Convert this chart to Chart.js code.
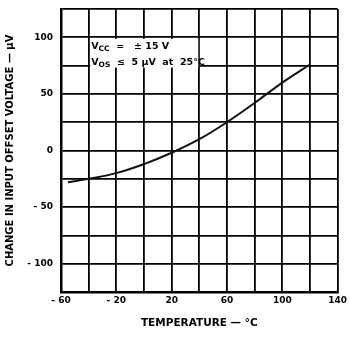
<!DOCTYPE html>
<html><head><meta charset="utf-8">
<script src="https://cdn.jsdelivr.net/npm/chart.js@4"></script>
<style>html,body{margin:0;padding:0;background:#fff}#w{width:350px;height:337px;position:relative}</style>
</head><body><div id="w"><canvas id="c"></canvas></div>
<script>
const temperatures = [-55, -40, -20, 0, 20, 40, 60, 80, 100, 120];
const offsetChange = [-28, -25, -20, -12, -2, 10, 25, 42, 60, 76];
const xTickLabels = {"-60": "- 60", "-20": "- 20", "20": "20", "60": "60", "100": "100", "140": "140"};
const yTickLabels = {"100": "100", "50": "50", "0": "0", "-50": "- 50", "-100": "- 100"};
const xTitle = "TEMPERATURE — °C";
const yTitle = "CHANGE IN INPUT OFFSET VOLTAGE — µV";
const noteLine1 = [["V", ""], ["CC", "sub"], ["  =   ± 15 V", ""]];
const noteLine2 = [["V", ""], ["OS", "sub"], ["  ≤  5 µV  at  25°C", ""]];

const FONT = "'DejaVu Sans', sans-serif";

const notePlugin = {
  id: 'note',
  beforeDatasetsDraw(chart) {
    const {ctx, scales: {x, y}} = chart;
    const x0 = x.getPixelForValue(-40) + 1.5;
    const x1 = x.getPixelForValue(40) - 1;
    const y0 = y.getPixelForValue(100) + 1.5;
    const y1 = y.getPixelForValue(75) + 2;
    ctx.save();
    ctx.fillStyle = '#fff';
    ctx.fillRect(x0, y0, x1 - x0, y1 - y0);
    ctx.fillStyle = '#000';
    ctx.textBaseline = 'middle';
    const drawLine = (parts, lx, ly) => {
      let cx = lx;
      for (const [t, kind] of parts) {
        if (kind === 'sub') {
          ctx.font = "bold 7.5px " + FONT;
          ctx.fillText(t, cx, ly + 2);
        } else {
          ctx.font = "bold 9.5px " + FONT;
          ctx.fillText(t, cx, ly);
        }
        cx += ctx.measureText(t).width;
      }
    };
    drawLine(noteLine1, x0 + 1, y0 + 8);
    drawLine(noteLine2, x0 + 1, y0 + 24);
    ctx.restore();
  }
};

new Chart(document.getElementById('c'), {
  type: 'line',
  data: {
    datasets: [{
      data: temperatures.map((t, i) => ({x: t, y: offsetChange[i]})),
      borderColor: '#111',
      borderWidth: 2,
      pointRadius: 0,
      tension: 0.4,
      fill: false
    }]
  },
  options: {
    responsive: true,
    maintainAspectRatio: false,
    animation: false,
    layout: {padding: {top: 9, right: 10, left: 0, bottom: 0}},
    plugins: {legend: {display: false}, tooltip: {enabled: false}},
    scales: {
      x: {
        type: 'linear', min: -60, max: 140,
        afterFit: s => { s.height = 45; },
        ticks: {
          stepSize: 20, autoSkip: false, maxRotation: 0, padding: 3,
          color: '#000', font: {family: FONT, size: 9, weight: 'bold'},
          callback: v => xTickLabels[String(v)] ?? ''
        },
        grid: {color: '#000', lineWidth: 1.8, drawTicks: false},
        border: {display: true, color: '#000', width: 2.5},
        title: {display: true, text: xTitle, color: '#000',
          font: {family: FONT, size: 10.5, weight: 'bold'}, padding: {top: 4, bottom: 7}}
      },
      y: {
        type: 'linear', min: -125, max: 125,
        afterFit: s => { s.width = 61; s.paddingTop = 0; s.paddingBottom = 0; },
        ticks: {
          stepSize: 25, autoSkip: false, padding: 8,
          color: '#000', font: {family: FONT, size: 9, weight: 'bold'},
          callback: v => yTickLabels[String(v)] ?? ''
        },
        grid: {color: '#000', lineWidth: 1.8, drawTicks: false},
        border: {display: true, color: '#000', width: 2.5},
        title: {display: true, text: yTitle, color: '#000',
          font: {family: FONT, size: 10, weight: 'bold'}, padding: {top: 4, bottom: 0}}
      }
    }
  },
  plugins: [notePlugin]
});
</script></body></html>
